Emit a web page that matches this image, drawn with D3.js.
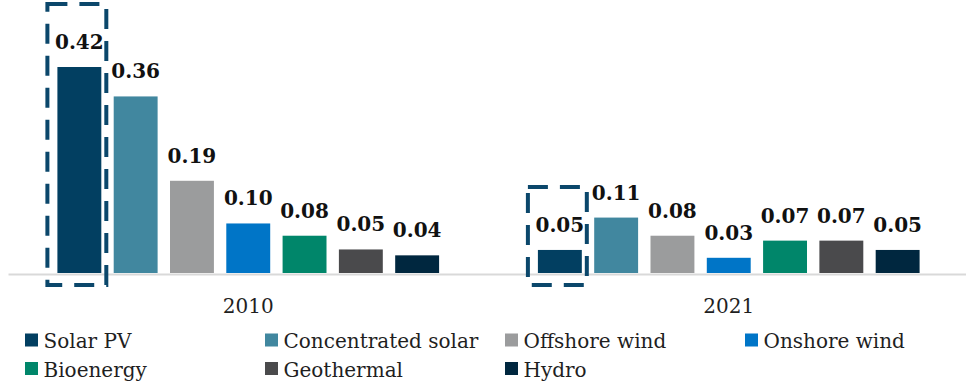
<!DOCTYPE html>
<html>
<head>
<meta charset="utf-8">
<script src="https://cdn.jsdelivr.net/npm/d3@7"></script>
<style>
  html, body { margin: 0; padding: 0; background: #ffffff; }
  svg { display: block; }
</style>
</head>
<body>
<svg id="chart" width="966" height="383"></svg>
<script>
// ---- data ----
const years = ["2010", "2021"];
const series = ["Solar PV", "Concentrated solar", "Offshore wind", "Onshore wind", "Bioenergy", "Geothermal", "Hydro"];
const values2010 = [0.420, 0.360, 0.188, 0.101, 0.076, 0.048, 0.036];
const values2021 = [0.047, 0.113, 0.076, 0.031, 0.066, 0.066, 0.047];
const colors = ["#023f61", "#41879f", "#9b9c9d", "#0075c7", "#00866a", "#4a4a4c", "#00273f"];
const highlights = [{ year: "2010", series: "Solar PV" }, { year: "2021", series: "Solar PV" }];

const valuesByYear = { "2010": values2010, "2021": values2021 };
const data = years.map(y => ({
  year: y,
  items: series.map((s, i) => ({ series: s, value: valuesByYear[y][i] }))
}));

const svg = d3.select("#chart");

const x0 = d3.scaleBand().domain(years).range([8, 969]).padding(0);
const x1 = d3.scaleBand().domain(series).range([0, x0.bandwidth()])
  .paddingInner(0.22).paddingOuter(0.8775);
const y = d3.scaleLinear().domain([0, 0.42]).range([273, 67]);
const color = d3.scaleOrdinal().domain(series).range(colors);
const fmt = d3.format(".2f");

// baseline axis
const xAxis = d3.axisBottom(x0).tickSize(0).tickPadding(0).tickFormat("");
const axisG = svg.append("g").attr("transform", `translate(0,${y(0) + 1})`).call(xAxis);
axisG.select(".domain").attr("stroke", "#d9d9d9").attr("stroke-width", 2);

// category labels
svg.append("g").selectAll("text").data(years).join("text")
  .attr("x", d => x0(d) + x0.bandwidth() / 2)
  .attr("y", y(0) + 40)
  .attr("text-anchor", "middle")
  .attr("font-family", "DejaVu Serif")
  .attr("font-size", 20)
  .attr("fill", "#1f1f1f")
  .text(d => d);

// bars
const groups = svg.append("g").selectAll("g").data(data).join("g")
  .attr("transform", d => `translate(${x0(d.year)},0)`);

groups.selectAll("rect").data(d => d.items).join("rect")
  .attr("x", d => x1(d.series))
  .attr("y", d => y(d.value))
  .attr("width", x1.bandwidth())
  .attr("height", d => y(0) - y(d.value))
  .attr("fill", d => color(d.series));

groups.selectAll("text").data(d => d.items).join("text")
  .attr("x", d => x1(d.series) + x1.bandwidth() / 2)
  .attr("y", d => y(d.value) - 18)
  .attr("text-anchor", "middle")
  .attr("font-family", "DejaVu Serif")
  .attr("font-weight", "bold")
  .attr("font-size", 20)
  .attr("fill", "#111111")
  .text(d => fmt(d.value));

// dashed highlight boxes
svg.append("g").selectAll("rect").data(highlights).join("rect")
  .attr("x", d => x0(d.year) + x1(d.series) - 10)
  .attr("y", d => y(valuesByYear[d.year][series.indexOf(d.series)]) - 63)
  .attr("width", x1.bandwidth() + 15)
  .attr("height", d => (y(0) + 12) - (y(valuesByYear[d.year][series.indexOf(d.series)]) - 63))
  .attr("fill", "none")
  .attr("stroke", "#0b476b")
  .attr("stroke-width", 4)
  .attr("stroke-dasharray", "20 12");

// legend
const legend = svg.append("g").selectAll("g").data(series).join("g")
  .attr("transform", (d, i) => `translate(${25 + (i % 4) * 240},${333.5 + Math.floor(i / 4) * 28.5})`);
legend.append("rect")
  .attr("width", 13).attr("height", 13)
  .attr("fill", d => color(d));
legend.append("text")
  .attr("x", 18.5).attr("y", 14.5)
  .attr("font-family", "DejaVu Serif")
  .attr("font-size", 20)
  .attr("fill", "#1f1f1f")
  .text(d => d);
</script>
</body>
</html>
